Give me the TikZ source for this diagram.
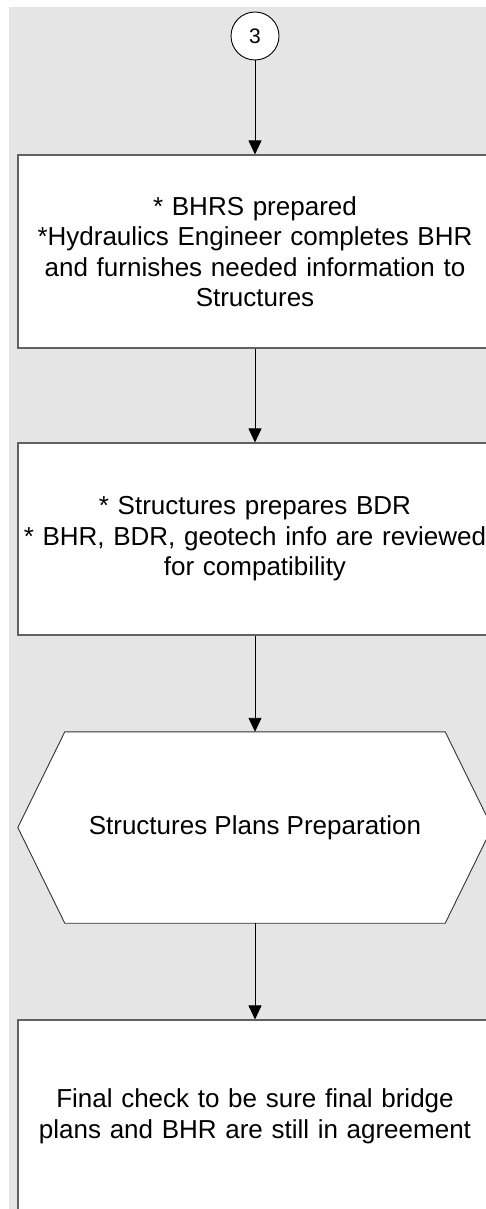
\documentclass[tikz,border=0pt]{standalone}
\usepackage{fontspec}
\setmainfont{Liberation Sans}
\usepackage{xcolor}
\usetikzlibrary{arrows.meta,backgrounds}

\definecolor{sheet}{gray}{0.898}

\begin{document}
\begin{tikzpicture}[
  x=1pt, y=-1pt,
  font=\fontsize{26}{30.5}\selectfont,
  task/.style    ={draw=black!62, line width=1.1pt, fill=white, align=center,
                   inner sep=0pt, minimum width=474pt, text width=472pt},
  prep/.style    ={align=center, inner sep=0pt,
                   minimum width=474pt, minimum height=191pt},
  hexline/.style ={draw=black!80, line width=0.9pt, fill=white},
  link/.style    ={circle, draw, line width=0.9pt, fill=white, inner sep=0pt,
                   minimum size=48pt, font=\fontsize{21}{24}\selectfont},
  ar/.style      ={-{Triangle[length=14pt, width=13pt]}, line width=0.9pt},
]

\useasboundingbox (0,0) rectangle (486,1209);

% ---------------- off-page connector ----------------------------------------
\node[link] (in3) at (255,36) {3};

% ---------------- report steps ------------------------------------------------
\node[task, minimum height=193pt] (bhrs) at (255,251.5)
  {* BHRS prepared\\
   {*}Hydraulics Engineer completes BHR\\
   and furnishes needed information to\\
   Structures};
\node[task, minimum height=192pt] (bdr) at (255,539)
  {* Structures prepares BDR\\
   {*} BHR, BDR, geotech info are reviewed\\
   for compatibility};

% ---------------- plans ---------------------------------------------------------
\node[prep] (plans) at (255,827.5) {Structures Plans Preparation};

\node[task, minimum height=193pt] (final) at (255,1116.5)
  {Final check to be sure final bridge\\
   plans and BHR are still in agreement};

\draw[ar] (in3)   -- (bhrs);
\draw[ar] (bhrs)  -- (bdr);
\draw[ar] (bdr)   -- (plans);
\draw[ar] (plans) -- (final);

% ---------------- sheet and hexagon behind the text -----------------------------
\begin{scope}[on background layer]
  \fill[sheet] (9,7) rectangle (500,1220);
  \path[hexline] (plans.west) -- ([xshift=47pt]plans.north west)
    -- ([xshift=-47pt]plans.north east) -- (plans.east)
    -- ([xshift=-47pt]plans.south east) -- ([xshift=47pt]plans.south west)
    -- cycle;
\end{scope}

\end{tikzpicture}
\end{document}
